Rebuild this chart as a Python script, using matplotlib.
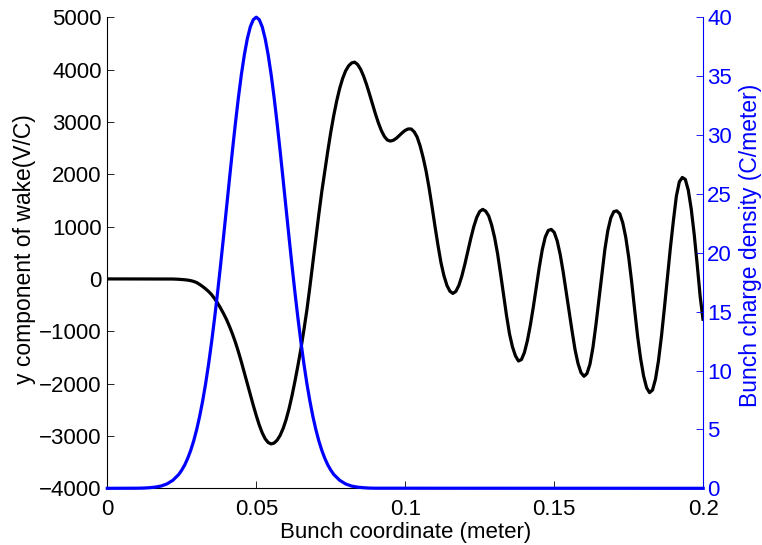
import numpy as np
import matplotlib
matplotlib.use("Agg")
import matplotlib.pyplot as plt

plt.rcParams['font.family'] = ['Liberation Sans', 'DejaVu Sans']

# Transverse (y) wake along the bunch, V/C, sampled every millimetre from 0.020 m
wake_start, wake_step = 0.020, 0.001
wake_y = [
    0, 0, -2, -4, -7, -11, -16, -23, -33, -48,                               # 0.020-0.029
    -70, -105, -145, -190, -240, -300, -375, -460, -555, -660,               # 0.030-0.039
    -774, -905, -1050, -1210, -1390, -1585, -1790, -2000, -2210, -2415,      # 0.040-0.049
    -2610, -2790, -2940, -3055, -3125, -3152, -3135, -3080, -2990, -2860,    # 0.050-0.059
    -2690, -2480, -2230, -1950, -1650, -1330, -970, -590, -150, 315,         # 0.060-0.069
    780, 1235, 1670, 2060, 2440, 2800, 3120, 3400, 3640, 3830,               # 0.070-0.079
    3975, 4070, 4125, 4141, 4097, 4008, 3877, 3716, 3533, 3341,              # 0.080-0.089
    3152, 2979, 2832, 2721, 2653, 2633, 2648, 2686, 2738, 2792,              # 0.090-0.099
    2838, 2865, 2864, 2810, 2710, 2540, 2320, 2060, 1740, 1380,              # 0.100-0.109
    1000, 640, 310, 60, -125, -235, -277, -238, -124, 54,                    # 0.110-0.119
    278, 526, 773, 997, 1175, 1289, 1328, 1295, 1205, 1030,                  # 0.120-0.129
    790, 480, 100, -300, -700, -1050, -1300, -1470, -1568, -1541,            # 0.130-0.139
    -1406, -1179, -881, -533, -150, 225, 560, 800, 925, 946,                 # 0.140-0.149
    890, 727, 470, 138, -239, -605, -997, -1353, -1617, -1792,               # 0.150-0.159
    -1860, -1807, -1629, -1310, -880, -400, 95, 560, 925, 1165,              # 0.160-0.169
    1285, 1300, 1245, 1075, 800, 416, -57, -590, -1100, -1521,               # 0.170-0.179
    -1852, -2077, -2172, -2122, -1913, -1561, -1094, -549, 31, 598,          # 0.180-0.189
    1110, 1580, 1855, 1938, 1902, 1696, 1333, 845, 270, -340,                # 0.190-0.199
    -800,                                                                    # 0.200
]
wake_z = np.round(wake_start + wake_step * np.arange(len(wake_y)), 4)
wake_z = np.concatenate([[0.0], wake_z])
wake_y = np.concatenate([[0.0], wake_y])

# Bunch line charge density, C/m
bunch_z = [0.000, 0.010, 0.012, 0.014, 0.016, 0.018, 0.020, 0.022, 0.024,
           0.025, 0.026, 0.027, 0.028, 0.029, 0.030, 0.031, 0.032, 0.033,
           0.034, 0.035, 0.036, 0.037, 0.038, 0.039, 0.040, 0.041, 0.042,
           0.043, 0.044, 0.045, 0.046, 0.047, 0.048, 0.049, 0.050, 0.051,
           0.052, 0.053, 0.054, 0.055, 0.056, 0.057, 0.058, 0.059, 0.060,
           0.061, 0.062, 0.063, 0.064, 0.065, 0.066, 0.067, 0.068, 0.069,
           0.070, 0.071, 0.072, 0.073, 0.074, 0.075, 0.076, 0.078, 0.080,
           0.082, 0.084, 0.086, 0.088, 0.090, 0.200]
bunch_rho = [0.0, 0.01, 0.02, 0.05, 0.10, 0.19, 0.37, 0.68, 1.18,
             1.55, 1.99, 2.55, 3.22, 4.03, 4.99, 6.11, 7.41, 8.88,
             10.55, 12.40, 14.42, 16.59, 18.90, 21.31, 23.77, 26.24, 28.67,
             30.99, 33.16, 35.12, 36.80, 38.17, 39.18, 39.79, 40.00, 39.79,
             39.18, 38.17, 36.80, 35.12, 33.16, 30.99, 28.67, 26.24, 23.77,
             21.31, 18.90, 16.59, 14.42, 12.40, 10.55, 8.88, 7.41, 6.11,
             4.99, 4.03, 3.22, 2.55, 1.99, 1.55, 1.18, 0.68, 0.37,
             0.19, 0.10, 0.05, 0.02, 0.01, 0.0]

x_ticks = [0, 0.05, 0.1, 0.15, 0.2]
x_ticklabels = ['0', '0.05', '0.1', '0.15', '0.2']
wake_ticks = list(range(-4000, 5001, 1000))
wake_ticklabels = ['\u22124000', '\u22123000', '\u22122000', '\u22121000', '0',
                   '1000', '2000', '3000', '4000', '5000']
rho_ticks = list(range(0, 41, 5))

blue = '#0000ff'
tick_fs = 16
label_fs = 16
ylabel_fs = 16.5

fig = plt.figure(figsize=(7.62, 5.45), dpi=100)
ax = fig.add_axes([0.1408, 0.104, 0.782, 0.8645])

ax.plot(wake_z, wake_y, color='black', lw=2.3, solid_joinstyle='round',
        solid_capstyle='butt', zorder=3)
ax.set_xlim(0, 0.2)
ax.set_ylim(-4000, 5000)
ax.set_xticks(x_ticks)
ax.set_xticklabels(x_ticklabels)
ax.set_yticks(wake_ticks)
ax.set_yticklabels(wake_ticklabels)
ax.tick_params(direction='in', length=5, width=0.6, labelsize=tick_fs,
               top=False, right=False)
ax.tick_params(axis='x', pad=8)
ax.tick_params(axis='y', pad=4)
ax.set_xlabel('Bunch coordinate (meter)', fontsize=label_fs, labelpad=1)
ax.set_ylabel('y component of wake(V/C)', fontsize=ylabel_fs)
ax.yaxis.set_label_coords(-0.119, 0.507)
ax.spines['top'].set_visible(False)
ax.spines['right'].set_visible(False)
for s in ('left', 'bottom'):
    ax.spines[s].set_linewidth(0.8)

ax2 = ax.twinx()
ax2.plot(bunch_z, bunch_rho, color=blue, lw=2.3, solid_joinstyle='round',
         clip_on=False, zorder=3)
ax2.set_ylim(0, 40)
ax2.set_yticks(rho_ticks)
ax2.tick_params(axis='y', direction='in', length=5, width=0.6,
                labelsize=tick_fs, pad=3, colors=blue)
ax2.set_ylabel('Bunch charge density (C/meter)', fontsize=ylabel_fs,
               color=blue)
ax2.yaxis.set_label_coords(1.060, 0.516)
ax2.spines['top'].set_visible(False)
ax2.spines['left'].set_visible(False)
ax2.spines['bottom'].set_visible(False)
ax2.spines['right'].set_color(blue)
ax2.spines['right'].set_linewidth(0.8)

fig.savefig('out.png', dpi=100)
